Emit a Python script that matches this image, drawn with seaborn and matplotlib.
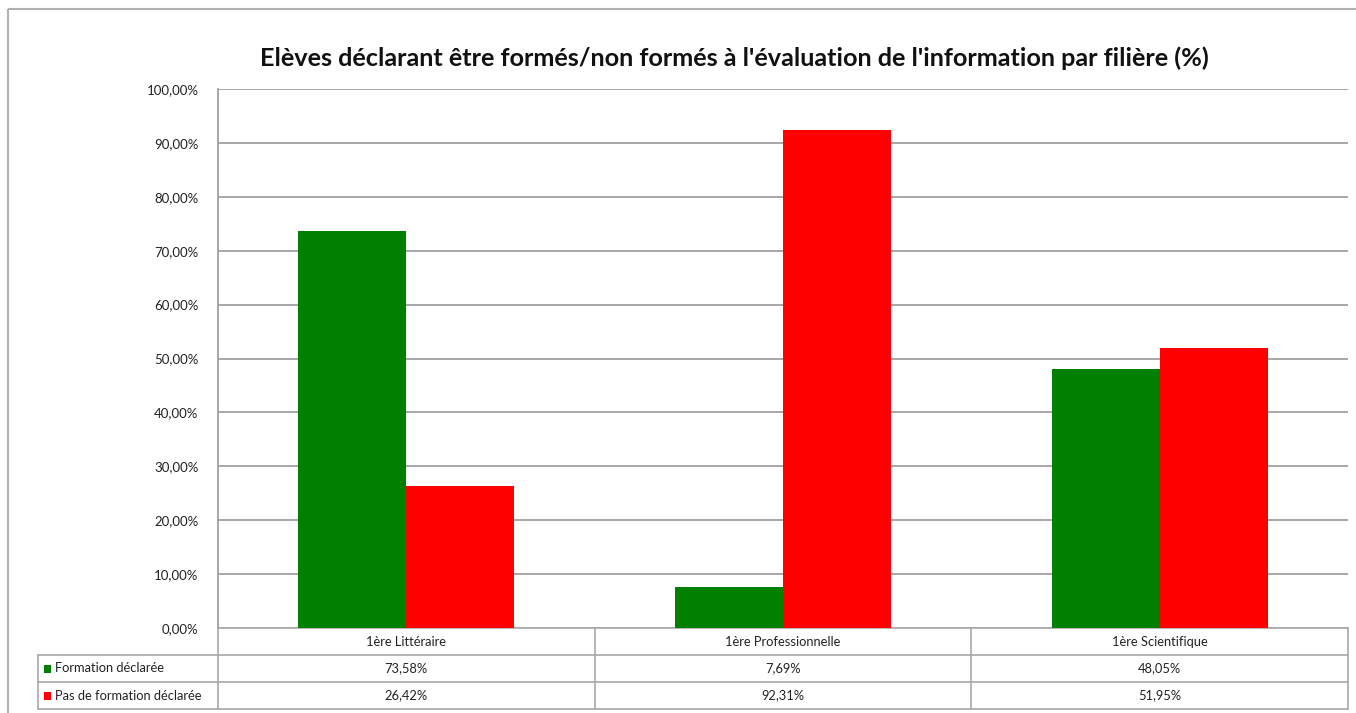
import pandas as pd
import seaborn as sns
import matplotlib.pyplot as plt
from matplotlib.lines import Line2D
from matplotlib.patches import Rectangle

# %% data
filieres = ['1ère Littéraire', '1ère Professionnelle', '1ère Scientifique']
series = ['Formation déclarée', 'Pas de formation déclarée']
formes = [73.58, 7.69, 48.05]
non_formes = [26.42, 92.31, 51.95]
couleurs = ['#008000', '#FF0000']
title = "Elèves déclarant être formés/non formés à l'évaluation de l'information par filière (%)"

df = pd.DataFrame({
    'filiere': filieres * 2,
    'serie': [series[0]] * 3 + [series[1]] * 3,
    'valeur': formes + non_formes,
})

def fr_pct(v):
    return f"{v:.2f}%".replace('.', ',')

# %% figure
sns.set_style('white')
plt.rcParams['font.family'] = ['Lato', 'DejaVu Sans']

W, H = 1356, 713
fig = plt.figure(figsize=(W / 100, H / 100), dpi=100)
fig.patch.set_facecolor('white')

x0, x1, y_top, y_bot = 218, 1348, 89, 628
ax = fig.add_axes([x0 / W, 1 - y_bot / H, (x1 - x0) / W, (y_bot - y_top) / H])

sns.barplot(data=df, x='filiere', y='valeur', hue='serie', palette=couleurs,
            width=0.573, saturation=1, ax=ax, legend=False)
ax.set_ylim(0, 100)
ax.set_xlim(-0.5, 2.5)
ax.set_yticks(range(0, 101, 10))
ax.set_yticklabels([fr_pct(v) for v in range(0, 101, 10)], fontsize=9.5, color='#222222')
ax.set_xticks([])
ax.set_xlabel('')
ax.set_ylabel('')
ax.tick_params(axis='y', length=0, pad=14)
ax.yaxis.grid(True, color='#a0a0a0', linewidth=1.3)
ax.set_axisbelow(True)
for p in ax.patches:
    p.set_edgecolor('none')
for s in ['top', 'right', 'bottom']:
    ax.spines[s].set_visible(False)
ax.spines['left'].set_color('#a0a0a0')
ax.spines['left'].set_linewidth(1.3)

# %% data table under the chart, drawn in pixel coordinates
tax = fig.add_axes([0, 0, 1, 1], zorder=-1)
tax.set_xlim(0, W)
tax.set_ylim(H, 0)
tax.axis('off')

gc = '#a8a8a8'
outer = Rectangle((8, 9), W + 10, H + 10, fill=False, edgecolor='#b0b0b0', linewidth=1.5)
tax.add_patch(outer)

col_w = (x1 - x0) / 3
cols = [x0 + i * col_w for i in range(4)]
rows = [628, 655, 682, 709]
lab_x = 38

# horizontal lines
tax.add_line(Line2D([x0, x1], [rows[0], rows[0]], color=gc, lw=1.2))
for r in rows[1:]:
    tax.add_line(Line2D([lab_x, x1], [r, r], color=gc, lw=1.2))
# vertical lines
for c in cols:
    tax.add_line(Line2D([c, c], [rows[0], rows[3]], color=gc, lw=1.2))
tax.add_line(Line2D([lab_x, lab_x], [rows[1], rows[3]], color=gc, lw=1.2))

for i, f in enumerate(filieres):
    xc = (cols[i] + cols[i + 1]) / 2
    tax.text(xc, (rows[0] + rows[1]) / 2, f, ha='center', va='center', fontsize=9.3, color='#222222')
    tax.text(xc, (rows[1] + rows[2]) / 2, fr_pct(formes[i]), ha='center', va='center', fontsize=9.3, color='#222222')
    tax.text(xc, (rows[2] + rows[3]) / 2, fr_pct(non_formes[i]), ha='center', va='center', fontsize=9.3, color='#222222')

for j, s in enumerate(series):
    yc = (rows[j + 1] + rows[j + 2]) / 2
    tax.add_patch(Rectangle((lab_x + 6, yc - 4), 7, 8, color=couleurs[j], linewidth=0))
    tax.text(lab_x + 17, yc, s, ha='left', va='center', fontsize=9.3, color='#222222')

fig.text(0.5 * (265 + 1203) / W, 1 - 58 / H, title, ha='center', va='center',
         fontsize=18.2, fontweight='bold', color='#111111')

fig.savefig('out.png', dpi=100, facecolor='white')
